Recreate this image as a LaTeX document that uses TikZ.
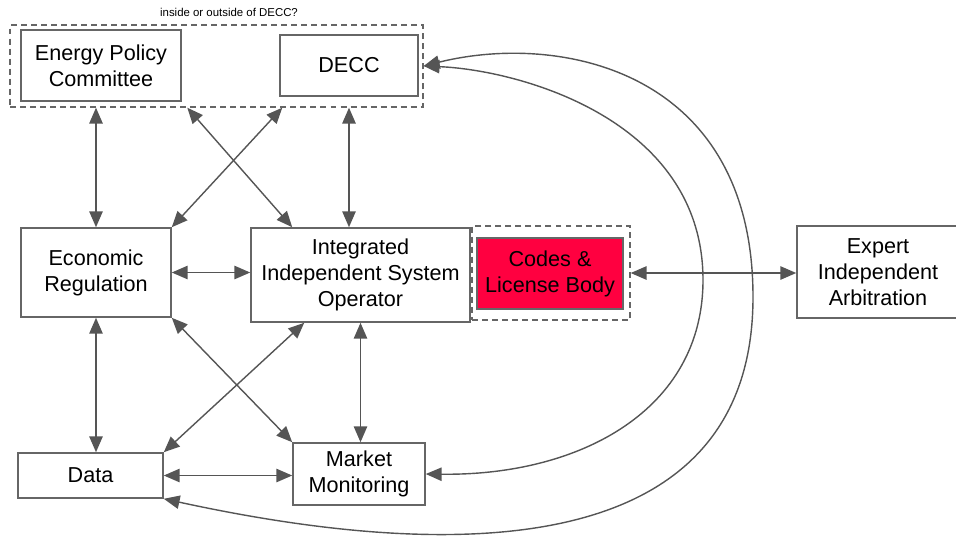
\documentclass[tikz,border=0pt]{standalone}
\usepackage{fontspec}
\setmainfont{Liberation Sans}
\usetikzlibrary{arrows.meta}

\definecolor{linkgray}{RGB}{85,85,85}
\definecolor{boxgray}{RGB}{102,102,102}
\definecolor{codered}{RGB}{255,0,64}

\begin{document}
\begin{tikzpicture}[
    x=0.02cm, y=-0.02cm,
    >={Triangle[length=9pt,width=7.6pt]},
    box/.style={draw=boxgray, line width=0.9pt, fill=white, align=center, inner sep=2pt, font=\fontsize{12.3}{14.8}\selectfont},
    group/.style={draw=boxgray, dash pattern=on 3.4pt off 2.3pt, line width=0.8pt, inner sep=0pt},
    link/.style={<->, draw=linkgray, line width=0.8pt}
]
    \useasboundingbox (0,0) rectangle (956,535);

    % Groups
    \node[group, minimum width=8.26cm, minimum height=1.64cm] (policy) at (216.5,66) {};
    \node[group, minimum width=3.16cm, minimum height=1.88cm] (codesgrp) at (551,273) {};
    \node[font=\fontsize{6.5}{8}\selectfont] (question) at (229,12) {inside or outside of DECC?};

    % Boxes
    \node[box, minimum width=3.2cm, minimum height=1.42cm] (epc) at (101,65.5) {Energy Policy\\Committee};
    \node[box, minimum width=2.76cm, minimum height=1.22cm] (decc) at (349,65.5) {DECC};
    \node[box, minimum width=3cm, minimum height=1.78cm] (econ) at (96,272.5) {Economic\\Regulation};
    \node[box, minimum width=4.38cm, minimum height=1.88cm] (iiso) at (360.5,275) {Integrated\\Independent System\\Operator};
    \node[box, fill=codered, minimum width=2.92cm, minimum height=1.42cm] (codes) at (550,273.5) {Codes \&\\License Body};
    \node[box, minimum width=3.24cm, minimum height=1.84cm] (expert) at (878,272) {Expert\\Independent\\Arbitration};
    \node[box, minimum width=2.9cm, minimum height=0.9cm] (data) at (90.5,475.5) {Data};
    \node[box, minimum width=2.64cm, minimum height=1.24cm] (market) at (359,474) {Market\\Monitoring};

    % Links
    \draw[link] (econ.north) -- (econ.north |- policy.south);
    \draw[link] ([xshift=3.56cm]policy.south west) -- ([xshift=0.84cm]iiso.north west);
    \draw[link] ([xshift=5.46cm]policy.south west) -- (econ.north east);
    \draw[link] (decc.south |- policy.south) -- (decc.south |- iiso.north);
    \draw[link] (econ.east) -- (econ.east -| iiso.west);
    \draw[link] (econ.south) -- (econ.south |- data.north);
    \draw[link] (econ.south east) -- (market.north west);
    \draw[link] ([xshift=1.08cm]iiso.south west) -- (data.north east);
    \draw[link] (iiso.south) -- (iiso.south |- market.north);
    \draw[link] (data.east) -- (data.east -| market.west);
    \draw[link] (codesgrp.east) -- (codesgrp.east -| expert.west);

    % Long arcs from DECC
    \draw[link] (policy.east) .. controls (560,32) and (753,70) .. (753,297)
                .. controls (753,540) and (500,572) .. (data.south east);
    \draw[link] (policy.east) .. controls (520,70) and (703,120) .. (703,280)
                .. controls (703,410) and (580,476) .. (market.east);

\end{tikzpicture}
\end{document}
